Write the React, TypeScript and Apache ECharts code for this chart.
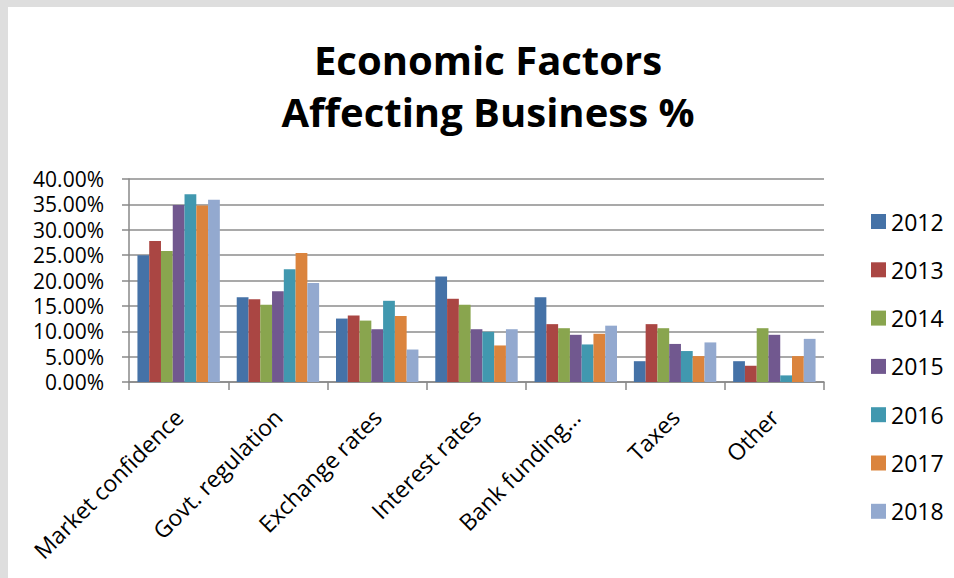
import React, { useEffect, useRef } from "react";
import * as echarts from "echarts";

const categories = [
  "Market confidence",
  "Govt. regulation",
  "Exchange rates",
  "Interest rates",
  "Bank funding…",
  "Taxes",
  "Other",
];

const years = ["2012", "2013", "2014", "2015", "2016", "2017", "2018"];

const v2012 = [25.0, 16.7, 12.5, 20.8, 16.7, 4.1, 4.1];
const v2013 = [27.8, 16.3, 13.1, 16.4, 11.4, 11.4, 3.2];
const v2014 = [25.8, 15.2, 12.1, 15.2, 10.6, 10.6, 10.6];
const v2015 = [34.9, 17.9, 10.4, 10.4, 9.3, 7.5, 9.3];
const v2016 = [37.0, 22.2, 16.0, 9.9, 7.4, 6.1, 1.3];
const v2017 = [34.8, 25.4, 13.0, 7.2, 9.5, 5.1, 5.1];
const v2018 = [35.9, 19.5, 6.4, 10.4, 11.1, 7.8, 8.5];

const seriesValues = [v2012, v2013, v2014, v2015, v2016, v2017, v2018];

const colors = ["#4572A7", "#AA4643", "#89A54E", "#71588F", "#4198AF", "#DB843D", "#93A9CF"];

const yTicks = [0, 5, 10, 15, 20, 25, 30, 35, 40];

const FONT = "'Open Sans', 'Noto Sans', sans-serif";

export default function App() {
  const ref = useRef<HTMLDivElement>(null);

  useEffect(() => {
    if (!ref.current) return;
    const chart = echarts.init(ref.current, undefined, { renderer: "svg" });
    chart.setOption({
      animation: false,
      backgroundColor: "#ffffff",
      color: colors,
      textStyle: { fontFamily: FONT },
      graphic: [
        { type: "rect", shape: { x: 0, y: 0, width: 954, height: 7 }, style: { fill: "#dedede" }, silent: true },
        { type: "rect", shape: { x: 0, y: 0, width: 8, height: 578 }, style: { fill: "#dedede" }, silent: true },
        {
          type: "text",
          x: 488,
          y: 33,
          style: {
            text: "Economic Factors\nAffecting Business %",
            fontFamily: FONT,
            fontSize: 40,
            fontWeight: "bold",
            lineHeight: 52,
            fill: "#000",
            align: "center",
          },
        },
      ],
      grid: { left: 129, right: 130, top: 179, bottom: 196, containLabel: false },
      legend: {
        orient: "vertical",
        left: 866,
        top: 205,
        itemWidth: 15,
        itemHeight: 15,
        itemGap: 25.3,
        icon: "rect",
        data: years,
        textStyle: { fontFamily: FONT, fontSize: 23, color: "#000", lineHeight: 23 },
      },
      xAxis: {
        type: "category",
        data: categories,
        axisLine: { lineStyle: { color: "#888", width: 1.5 } },
        axisTick: { show: true, length: 8, lineStyle: { color: "#888", width: 1.5 } },
        axisLabel: {
          interval: 0,
          rotate: 45,
          margin: 31,
          fontSize: 23,
          color: "#000",
          fontFamily: FONT,
        },
      },
      yAxis: {
        type: "value",
        min: 0,
        max: 40,
        interval: 5,
        axisLine: { show: true, lineStyle: { color: "#888", width: 1.5 } },
        axisTick: { show: true, length: 7, lineStyle: { color: "#888", width: 1.5 } },
        splitLine: { lineStyle: { color: "#8c8c8c", width: 1.5 } },
        axisLabel: {
          margin: 25,
          fontSize: 21,
          lineHeight: 21,
          color: "#000",
          fontFamily: FONT,
          formatter: (v: number) => (yTicks.includes(v) ? v.toFixed(2) + "%" : ""),
        },
      },
      series: years.map((y, i) => ({
        name: y,
        type: "bar",
        data: seriesValues[i],
        barGap: "0%",
        barCategoryGap: "17%",
        itemStyle: { color: colors[i] },
      })),
    });
    return () => chart.dispose();
  }, []);

  return (
    <div
      ref={ref}
      style={{ position: "fixed", left: 0, top: 0, width: 954, height: 578 }}
    />
  );
}
